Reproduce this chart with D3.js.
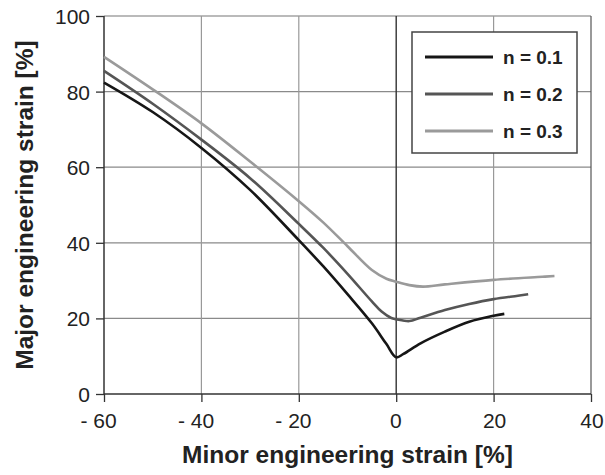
<!DOCTYPE html>
<html>
<head>
<meta charset="utf-8">
<script src="https://cdn.jsdelivr.net/npm/d3@7"></script>
<style>
  body { margin: 0; background: #fff; }
  .chart text { font-family: 'Liberation Sans', Arial, sans-serif; fill: #222; }
</style>
</head>
<body>
<div class="chart"></div>
<script>
// minor strain (x) / major strain (y), in %
const minor01 = [-60, -50, -40, -30, -20, -15, -10, -5, -2, 0, 1.5, 5, 10, 15, 20, 22.2]
const major01 = [82.4, 74.6, 65.1, 54, 40.7, 33.8, 26.4, 18.7, 13.2, 9.7, 10.6, 13.4, 16.5, 19.1, 20.7, 21.2]

const minor02 = [-60, -50, -40, -30, -20, -15, -10, -5, -3, -1, 0, 2.7, 5, 10, 15, 20, 25, 27.1]
const major02 = [85.5, 76.8, 67.3, 57.1, 45, 38.7, 31.8, 24.5, 21.8, 20.1, 19.8, 19.3, 20.2, 22.2, 23.8, 25.1, 26, 26.4]

const minor03 = [-60, -50, -40, -30, -20, -15, -10, -5, -2, 0, 2.7, 5.5, 10, 20, 30, 32.5]
const major03 = [89.2, 80.6, 71.6, 61.5, 51, 45.4, 39.1, 32.8, 30.5, 29.7, 28.8, 28.4, 29, 30.2, 31, 31.2]

const seriesNames = ['n = 0.1', 'n = 0.2', 'n = 0.3']
const seriesColors = ['#161616', '#555555', '#9a9a9a']
const xTicks = [-60, -40, -20, 0, 20, 40]
const yTicks = [0, 20, 40, 60, 80, 100]

const width = 605
const height = 475
const margin = { top: 16, right: 14, bottom: 81, left: 104 }
const plotW = width - margin.left - margin.right
const plotH = height - margin.top - margin.bottom

const series = [
  { name: seriesNames[0], color: seriesColors[0], xs: minor01, ys: major01 },
  { name: seriesNames[1], color: seriesColors[1], xs: minor02, ys: major02 },
  { name: seriesNames[2], color: seriesColors[2], xs: minor03, ys: major03 }
]

const x = d3.scaleLinear().domain([-60, 40]).range([0, plotW])
const y = d3.scaleLinear().domain([0, 100]).range([plotH, 0])

const svg = d3.select('.chart')
  .append('svg')
  .attr('width', width)
  .attr('height', height)

const g = svg.append('g')
  .attr('transform', `translate(${margin.left},${margin.top})`)

// grid
g.selectAll('.hgrid')
  .data(yTicks.filter((d) => d > 0))
  .enter()
  .append('line')
  .attr('x1', 0)
  .attr('x2', plotW)
  .attr('y1', (d) => y(d))
  .attr('y2', (d) => y(d))
  .attr('stroke', (d) => d === 100 ? '#777' : '#8a8a8a')
  .attr('stroke-width', 1.2)

g.selectAll('.vgrid')
  .data(xTicks.filter((d) => d > -60))
  .enter()
  .append('line')
  .attr('x1', (d) => x(d))
  .attr('x2', (d) => x(d))
  .attr('y1', 0)
  .attr('y2', plotH)
  .attr('stroke', (d) => d === 0 ? '#333' : (d === 40 ? '#555' : '#999'))
  .attr('stroke-width', (d) => d === 0 ? 1.4 : 1.2)

// axes
const xAxis = d3.axisBottom(x)
  .tickValues(xTicks)
  .tickSize(8)
  .tickFormat('')
const yAxis = d3.axisLeft(y)
  .tickValues(yTicks)
  .tickSize(8)
  .tickFormat('')

g.append('g')
  .attr('transform', `translate(0,${plotH})`)
  .call(xAxis)
  .call((a) => a.select('.domain').attr('stroke', '#333').attr('stroke-width', 1.5).attr('d', `M0,0H${plotW}`))
  .call((a) => a.selectAll('.tick line').attr('stroke', '#333').attr('stroke-width', 1.3))

g.append('g')
  .call(yAxis)
  .call((a) => a.select('.domain').attr('stroke', '#333').attr('stroke-width', 1.5).attr('d', `M0,0V${plotH}`))
  .call((a) => a.selectAll('.tick line').attr('stroke', '#333').attr('stroke-width', 1.3))

// tick labels
g.selectAll('.xlabel')
  .data(xTicks)
  .enter()
  .append('text')
  .attr('x', (d) => x(d) + (Math.abs(d) >= 10 ? 12.7 : 5.5))
  .attr('y', plotH + 34)
  .attr('text-anchor', 'end')
  .style('font-size', '21px')
  .text((d) => d < 0 ? `- ${Math.abs(d)}` : `${d}`)

g.selectAll('.ylabel')
  .data(yTicks)
  .enter()
  .append('text')
  .attr('x', -14)
  .attr('y', (d) => y(d) + 8)
  .attr('text-anchor', 'end')
  .style('font-size', '21px')
  .text((d) => d)

// curves
const line = d3.line()
  .x((d) => x(d[0]))
  .y((d) => y(d[1]))
  .curve(d3.curveCatmullRom.alpha(0.5))

g.selectAll('.curve')
  .data(series)
  .enter()
  .append('path')
  .attr('d', (s) => line(d3.zip(s.xs, s.ys)))
  .attr('fill', 'none')
  .attr('stroke', (s) => s.color)
  .attr('stroke-width', 2.6)
  .attr('stroke-linejoin', 'round')

// legend
const legend = svg.append('g')
  .attr('transform', 'translate(412,32)')

legend.append('rect')
  .attr('width', 165)
  .attr('height', 121)
  .attr('fill', '#fff')
  .attr('stroke', '#444')
  .attr('stroke-width', 1.5)

const item = legend.selectAll('.item')
  .data(series)
  .enter()
  .append('g')
  .attr('transform', (d, i) => `translate(0,${25 + i * 37})`)

item.append('line')
  .attr('x1', 13)
  .attr('x2', 81)
  .attr('stroke', (d) => d.color)
  .attr('stroke-width', 3)

item.append('text')
  .attr('x', 91)
  .attr('y', 7)
  .style('font-size', '19px')
  .style('font-weight', 'bold')
  .text((d) => d.name)

// titles
svg.append('text')
  .attr('x', margin.left + plotW / 2)
  .attr('y', 463)
  .attr('text-anchor', 'middle')
  .style('font-size', '24.5px')
  .style('font-weight', 'bold')
  .text('Minor engineering strain [%]')

svg.append('text')
  .attr('transform', `translate(33,${margin.top + plotH / 2}) rotate(-90)`)
  .attr('text-anchor', 'middle')
  .style('font-size', '24.5px')
  .style('font-weight', 'bold')
  .text('Major engineering strain [%]')
</script>
</body>
</html>
